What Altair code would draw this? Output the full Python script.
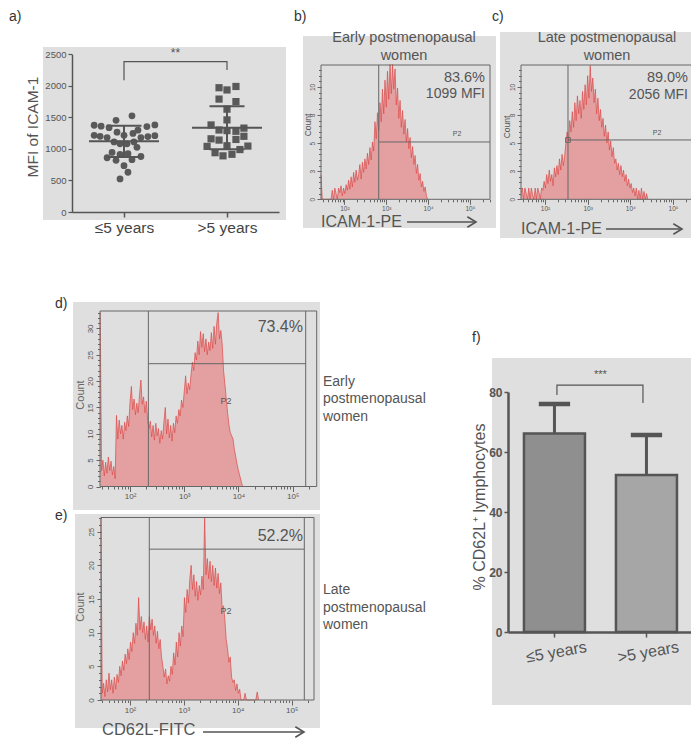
import altair as alt
import pandas as pd

W, H = 683, 731
M = 8  # page margin: reference pixel -> chart pixel


def px(v):
    return v - M


FONT = "Liberation Sans"
NARROW = "Liberation Sans Narrow, Liberation Sans"
TXT = "#555555"
AX = "#555555"
PANEL_BG = "#dfdfdf"
HIST_FILL = "#e4a0a0"
HIST_LINE = "#dc4848"
FRAME = "#666666"
ONE = [{"k": 0}]

# ---------------- panel a data ----------------
a_groups = ["≤5 years", ">5 years"]
a_le5_values = [1525, 1453, 1375, 1360, 1337, 1355, 1380, 1297, 1265, 1215, 1200, 1180, 1215, 1245,
                1180, 1195, 1210, 1110, 1080, 1080, 1110, 1025, 945, 915, 925, 860, 820, 830, 880,
                735, 630, 525]
a_le5_jitter = [8, -8, -30, -23, -15, 23, 31, 14, -7, -30, -24, -17, 0, 9, 17, 24, 31, -10, -4, 3,
                10, 13, -12, -4, 4, -17, -8, 8, 17, 0, 4, -4]
a_gt5_values = [1970, 1935, 1990, 1790, 1750, 1630, 1460, 1380, 1300, 1290, 1280, 1330, 1160, 1140,
                1150, 1200, 1050, 1040, 1045, 940, 890, 915, 990]
a_gt5_jitter = [-8, 0, 9, -8, 9, 0, 0, -16, -8, 0, 9, 17, -16, -8, 9, 17, 0, -20, 21, -12, -4, 5, 13]
a_means = [1120, 1336]
a_sds = [248, 342]
a_bracket = [2090, 2385, 2385, 2250]
a_yticks = [0, 500, 1000, 1500, 2000, 2500]

# ---------------- panel f data ----------------
f_groups = ["≤5 years", ">5 years"]
f_means = [66.2, 52.3]
f_sds = [9.8, 13.4]
f_bracket = [79, 82.3, 82.3, 76.3]
f_yticks = [0, 20, 40, 60, 80]

# ---------------- flow histograms (counts per log-channel) ----------------
b_counts = [2.2, 0, 0, 0, 0, 0, 0, 0, 0,
            0.8, 0, 1, 0.5, 0, 1, 0.6, 1.2, 0.3, 1, 0.5,
            1.3, 0.8, 1.7, 0.9, 2, 1.1, 2.4, 1.5, 2.6, 1.7,
            2.2, 3.1, 1.8, 3.3, 2.4, 3.6, 2.7, 4.1, 3.1, 4.6,
            3.5, 5.1, 4.3, 6.9, 5.4, 7.7, 6.1, 8.6, 6.9, 9.8,
            7.6, 10.6, 8.2, 11.4, 8.9, 12, 9.4, 12, 9.8, 11.6,
            8.4, 9.9, 7.2, 8.8, 6.4, 7.9, 5.8, 7.1, 5.1, 6.3,
            4.5, 5.5, 3.7, 4.7, 3.1, 3.9, 2.3, 3.1, 1.7, 2.3,
            1.1, 1.6, 0.7, 1.1, 0.3, 0]
c_counts = [0.6, 1, 0, 1, 0.5, 0, 1, 0, 1, 0.4,
            0, 1, 0, 1, 0.6, 0, 1, 0.8, 1.6, 1,
            2.2, 1.4, 2.6, 1.6, 2.2, 1.2, 2.8, 2, 3, 2.2,
            3.6, 2.6, 4, 3, 3.8, 5, 6, 5.2, 7, 6,
            7.8, 6.4, 8.6, 7, 9.2, 7.6, 8.8, 7.2, 9.6, 8,
            10.2, 8.4, 11, 9, 11.9, 9.6, 10.8, 8.6, 9.8, 7.6,
            9, 7, 8, 6.4, 7.2, 5.6, 6.6, 5, 6, 4.4,
            5.2, 3.8, 4.6, 3.2, 3.6, 2.6, 3.2, 2.2, 3, 2,
            2.6, 1.6, 2.2, 1.2, 1.8, 1, 1.4, 0.6, 1, 0.3,
            1, 0, 0.8, 0, 1, 0, 0.7, 0, 0.5, 0]
d_counts = [33, 3, 5, 2, 4.6, 2.5, 5.6, 3, 4.8, 2.2,
            3.8, 1.5, 13.5, 9, 12.6, 10, 11.6, 9, 12.2, 10.6,
            13.4, 11.4, 16, 19, 14.6, 16.6, 13.6, 15.8, 14, 17.4,
            20.2, 15.6, 17, 14, 16.2, 12.6, 11, 12.4, 9.4, 11.6,
            8.8, 12, 9.6, 11, 8.2, 10.6, 9, 12.2, 15, 10,
            12.8, 9.2, 11.6, 8.6, 12, 10.2, 13.4, 12, 14.6, 13.4,
            16.4, 15, 18, 21, 17.6, 19.6, 18.4, 21.2, 23.6, 22,
            25.4, 24, 27.6, 25, 29.4, 26.4, 29, 25.6, 28, 25,
            27.4, 25.8, 29.2, 26.2, 30.4, 27, 31, 33, 28, 29.6,
            27, 22, 19.4, 16.6, 14, 11.6, 10.2, 9.6, 9, 7,
            5.6, 4.2, 3, 2, 1, 0]
e_counts = [27.1, 1, 2.5, 0.5, 3, 1.2, 4, 1.5, 3, 1,
            3.4, 1.6, 3.8, 2.6, 5, 3.6, 5.8, 4.4, 6.8, 5.4,
            7.6, 6, 8.6, 7.2, 10, 8.4, 11.4, 9.6, 15.2, 10.4,
            12.4, 10, 11.6, 9, 11, 8.6, 12.4, 10.4, 12, 9.6,
            11, 8.4, 10.2, 7.6, 9, 6.4, 5, 3.4, 4.6, 2.4,
            3.6, 2.8, 5, 3.8, 7, 5.2, 8.6, 6.4, 10, 8,
            11, 9.4, 15.2, 13, 16.4, 14.4, 18, 20, 16.4, 18.6,
            15.4, 17.6, 14.8, 17, 15.6, 18.4, 16.4, 27.1, 18.6, 21,
            18, 20.6, 17.6, 20, 17, 19.6, 16.6, 18.8, 15.8, 17.4,
            13.6, 14, 12, 9, 7.6, 5.6, 6.4, 3.4, 2.6, 3,
            1.4, 2.4, 1, 1.6, 0, 0, 0, 1, 0, 0,
            0, 0, 0, 0, 0, 0, 1.2, 0]

decade_labels = "datum.value == 100 ? '10²' : datum.value == 1000 ? '10³' : datum.value == 10000 ? '10⁴' : datum.value == 100000 ? '10⁵' : ''"


# ---------------- helpers ----------------
def one():
    return alt.Chart(alt.Data(values=ONE))


def bg(x0, x1, y0, y1, color=PANEL_BG):
    return one().mark_rect(color=color).encode(
        x=alt.value(px(x0)), x2=alt.value(px(x1)), y=alt.value(px(y0)), y2=alt.value(px(y1)))


def txt(s, x, y, size=14, angle=0, align="left", baseline="middle", color=TXT, font=FONT, weight="normal"):
    return one().mark_text(text=s, fontSize=size, angle=angle, align=align, baseline=baseline,
                           color=color, font=font, fontWeight=weight).encode(
        x=alt.value(px(x)), y=alt.value(px(y)))


def arrow(x0, x1, y):
    shaft = one().mark_rule(color="#555555", strokeWidth=1.4).encode(
        x=alt.value(px(x0)), x2=alt.value(px(x1 - 1)), y=alt.value(px(y)))
    head = one().mark_point(shape="M-1,-0.6L0,0L-1,0.6", filled=False, size=300, color="#555555",
                            strokeWidth=1.6, opacity=1).encode(x=alt.value(px(x1)), y=alt.value(px(y)))
    return [shaft, head]


layers = []

# ======================= panel a =======================
layers.append(bg(43, 286, 47, 220))
a_x = alt.Scale(domain=[-0.505, 1.505], range=[px(72), px(279)], nice=False, zero=False)
a_y = alt.Scale(domain=[0, 2500], range=[px(212), px(54.3)], nice=False, zero=False)

df_le5 = pd.DataFrame({"grp": 0, "jit": a_le5_jitter, "val": a_le5_values})
df_gt5 = pd.DataFrame({"grp": 1, "jit": a_gt5_jitter, "val": a_gt5_values})

layers.append(alt.Chart(df_le5).transform_calculate(xp="datum.grp + datum.jit/103.5").mark_circle(
    size=46, color="#595959", opacity=1).encode(
    x=alt.X("xp:Q", scale=a_x, axis=alt.Axis(
        orient="bottom", offset=px(212) - H, values=[0, 1],
        labelExpr="datum.value == 0 ? '%s' : '%s'" % (a_groups[0], a_groups[1]),
        labelFontSize=15.5, labelColor="#444444", labelFont=FONT, labelPadding=3,
        tickSize=5, tickWidth=1.5, tickColor=AX, domainColor=AX, domainWidth=1.5,
        title=None, grid=False, zindex=1, labelFlush=False)),
    y=alt.Y("val:Q", scale=a_y, axis=alt.Axis(
        orient="left", offset=-px(72), values=a_yticks, format="d", labelFontSize=9.5,
        labelColor="#555555", labelFont=FONT, labelPadding=2, tickSize=4, tickWidth=1.2,
        tickColor=AX, domainColor=AX, domainWidth=1.5, title=None, grid=False, zindex=1))))
layers.append(alt.Chart(df_gt5).transform_calculate(xp="datum.grp + datum.jit/103.5").mark_square(
    size=52, color="#595959", opacity=1).encode(
    x=alt.X("xp:Q", scale=a_x, axis=None), y=alt.Y("val:Q", scale=a_y, axis=None)))

df_a_stats = pd.DataFrame({"grp": [0, 1], "mean": a_means, "sd": a_sds})
a_base = alt.Chart(df_a_stats).transform_calculate(
    lo="datum.mean - datum.sd", hi="datum.mean + datum.sd",
    m0="datum.grp - 0.34", m1="datum.grp + 0.34", c0="datum.grp - 0.17", c1="datum.grp + 0.17")
layers.append(a_base.mark_rule(color="#555555", strokeWidth=2).encode(
    x=alt.X("m0:Q", scale=a_x, axis=None), x2="m1:Q", y=alt.Y("mean:Q", scale=a_y, axis=None)))
layers.append(a_base.mark_rule(color="#555555", strokeWidth=2).encode(
    x=alt.X("grp:Q", scale=a_x, axis=None), y=alt.Y("lo:Q", scale=a_y, axis=None), y2="hi:Q"))
layers.append(a_base.mark_rule(color="#555555", strokeWidth=2).encode(
    x=alt.X("c0:Q", scale=a_x, axis=None), x2="c1:Q", y=alt.Y("hi:Q", scale=a_y, axis=None)))
layers.append(a_base.mark_rule(color="#555555", strokeWidth=2).encode(
    x=alt.X("c0:Q", scale=a_x, axis=None), x2="c1:Q", y=alt.Y("lo:Q", scale=a_y, axis=None)))

df_a_br = pd.DataFrame({"i": [0, 1, 2, 3], "g": [0, 0, 1, 1], "v": a_bracket})
layers.append(alt.Chart(df_a_br).mark_line(color="#555555", strokeWidth=1.2).encode(
    x=alt.X("g:Q", scale=a_x, axis=None), y=alt.Y("v:Q", scale=a_y, axis=None), order="i:Q"))
layers.append(alt.Chart(pd.DataFrame({"g": [0.5], "v": [2520], "t": ["**"]})).mark_text(
    fontSize=12, color="#555555", font=FONT).encode(
    x=alt.X("g:Q", scale=a_x, axis=None), y=alt.Y("v:Q", scale=a_y, axis=None), text="t:N"))
layers.append(txt("MFI of ICAM-1", 33, 127, size=15.5, angle=270, align="center", color="#555555"))
layers.append(txt("a)", 9, 17, size=14, color="#333333"))


# ======================= flow panels =======================
def flow_panel(cfg):
    out = [bg(*cfg["bg"])]
    xlo, xhi = 10 ** cfg["xlo"], 10 ** cfg["xhi"]
    xs = alt.Scale(type="log", domain=[xlo, xhi], range=[px(cfg["L"]), px(cfg["R"])], nice=False)
    ys = alt.Scale(domain=[0, cfg["ytop"]], range=[px(cfg["B"]), px(cfg["T"])], nice=False, zero=False)
    counts = cfg["counts"]
    hist = pd.DataFrame({"x": [10 ** (cfg["start"] + i * cfg["step"]) for i in range(len(counts))],
                         "c": counts})
    minor_x = [k * 10 ** d for d in range(1, 6) for k in range(2, 10) if xlo <= k * 10 ** d <= xhi]
    out.append(alt.Chart(hist).mark_area(color=HIST_FILL, opacity=1, interpolate="linear").encode(
        x=alt.X("x:Q", scale=xs, axis=alt.Axis(
            orient="bottom", offset=px(cfg["B"]) - H, values=minor_x, labels=False, tickSize=2.5,
            tickColor=FRAME, domain=False, grid=False, title=None, zindex=1)),
        y=alt.Y("c:Q", scale=ys, axis=alt.Axis(
            orient="left", offset=-px(cfg["L"]), values=cfg["yminor"], labels=False, tickSize=2.5,
            tickColor=FRAME, domain=False, grid=False, title=None, zindex=1))))
    out.append(alt.Chart(hist).mark_line(color=HIST_LINE, strokeWidth=0.7, interpolate="linear").encode(
        x=alt.X("x:Q", scale=xs, axis=None), y=alt.Y("c:Q", scale=ys, axis=None)))
    frame = pd.DataFrame({"x0": [xlo], "x1": [xhi], "y0": [0], "y1": [cfg["ytop"]]})
    out.append(alt.Chart(frame).mark_rect(fillOpacity=0, stroke=FRAME, strokeWidth=1).encode(
        x=alt.X("x0:Q", scale=xs, axis=alt.Axis(
            orient="bottom", offset=px(cfg["B"]) - H, values=[100, 1000, 10000, 100000],
            labelExpr=decade_labels, labelFontSize=cfg["tick_fs"], labelColor="#555555", labelFont=FONT,
            labelPadding=1, tickSize=5, tickColor=FRAME, domain=False, grid=False, title=None,
            zindex=1, labelFlush=False, labelOverlap=False)),
        x2="x1:Q",
        y=alt.Y("y0:Q", scale=ys, axis=alt.Axis(
            orient="left", offset=-px(cfg["L"]), values=cfg["ymajor"], labelAngle=270,
            labelAlign="center", labelBaseline="bottom", labelFontSize=cfg["tick_fs"],
            labelColor="#555555", labelFont=FONT, labelPadding=2, tickSize=4, tickColor=FRAME,
            domain=False, grid=False, title=None, zindex=1, labelOverlap=False)),
        y2="y1:Q"))
    gate_right = 10 ** cfg["gate_right"] if cfg.get("gate_right") else xhi
    gates = pd.DataFrame({"g": [10 ** cfg["gate"]], "r": [gate_right], "y0": [0],
                          "y1": [cfg["ytop"]], "gy": [cfg["gate_y"]]})
    out.append(alt.Chart(gates).mark_rule(color=FRAME, strokeWidth=1).encode(
        x=alt.X("g:Q", scale=xs, axis=None), y=alt.Y("y0:Q", scale=ys, axis=None), y2="y1:Q"))
    out.append(alt.Chart(gates).mark_rule(color=FRAME, strokeWidth=1).encode(
        x=alt.X("g:Q", scale=xs, axis=None), x2="r:Q", y=alt.Y("gy:Q", scale=ys, axis=None)))
    if cfg.get("gate_right"):
        out.append(alt.Chart(gates).mark_rule(color=FRAME, strokeWidth=1).encode(
            x=alt.X("r:Q", scale=xs, axis=None), y=alt.Y("y0:Q", scale=ys, axis=None), y2="y1:Q"))
    if cfg.get("marker"):
        out.append(alt.Chart(gates).mark_square(filled=False, size=22, color=FRAME, opacity=1,
                                                strokeWidth=1).encode(
            x=alt.X("g:Q", scale=xs, axis=None), y=alt.Y("gy:Q", scale=ys, axis=None)))
    return out


panel_b = dict(bg=(303, 496, 36, 228), L=321, R=490, T=65, B=199.3, xlo=1.44, xhi=5.48, ytop=11.95,
               start=1.44, step=0.03, counts=b_counts, gate=2.82, gate_y=5.1,
               yminor=[i * 0.5 for i in range(24)], ymajor=[0, 2.5, 5, 7.5, 10], tick_fs=6.5)
panel_c = dict(bg=(500, 699, 32, 238), L=521, R=693, T=65, B=199.3, xlo=1.438, xhi=5.468, ytop=11.95,
               start=1.44, step=0.03, counts=c_counts, gate=2.539, gate_y=5.28, marker=True,
               yminor=[i * 0.5 for i in range(24)], ymajor=[0, 2.5, 5, 7.5, 10], tick_fs=6.5)
panel_d = dict(bg=(73, 320, 302, 510), L=100, R=316.7, T=311, B=486.5, xlo=1.446, xhi=5.443, ytop=33.3,
               start=1.45, step=0.025, counts=d_counts, gate=2.338, gate_y=23.3, gate_right=5.24,
               yminor=list(range(34)), ymajor=[0, 5, 10, 15, 20, 25, 30], tick_fs=8)
panel_e = dict(bg=(75, 320, 514, 728), L=101, R=314, T=517.5, B=700, xlo=1.462, xhi=5.414, ytop=27.1,
               start=1.46, step=0.025, counts=e_counts, gate=2.358, gate_y=22.4, gate_right=5.234,
               yminor=list(range(28)), ymajor=[0, 5, 10, 15, 20, 25], tick_fs=8)

for p in (panel_b, panel_c, panel_d, panel_e):
    layers.extend(flow_panel(p))

# panel b texts
layers.append(txt("b)", 294, 17, size=14, color="#333333"))
layers.append(txt("Early postmenopausal", 404, 38, size=14.5, align="center"))
layers.append(txt("women", 404, 56, size=14.5, align="center"))
layers.append(txt("83.6%", 485, 78, size=14.5, align="right"))
layers.append(txt("1099 MFI", 485, 94, size=14, align="right"))
layers.append(txt("P2", 457, 134, size=7, align="center"))
layers.append(txt("Count", 308, 125, size=8.5, angle=270, align="center"))
layers.append(txt("ICAM-1-PE", 321, 222, size=16))
layers.extend(arrow(407, 476, 222))

# panel c texts
layers.append(txt("c)", 492, 17, size=14, color="#333333"))
layers.append(txt("Late postmenopausal", 607, 38, size=14.5, align="center"))
layers.append(txt("women", 607, 56, size=14.5, align="center"))
layers.append(txt("89.0%", 688, 78, size=14.5, align="right"))
layers.append(txt("2056 MFI", 688, 95, size=14, align="right"))
layers.append(txt("P2", 657, 133, size=7, align="center"))
layers.append(txt("Count", 507, 127, size=8.5, angle=270, align="center"))
layers.append(txt("ICAM-1-PE", 521, 229, size=16))
layers.extend(arrow(606, 682, 229))

# panel d texts
layers.append(txt("d)", 55, 304, size=14, color="#333333"))
layers.append(txt("73.4%", 303, 327, size=16, align="right"))
layers.append(txt("P2", 226, 401, size=9, align="center"))
layers.append(txt("Count", 81, 395, size=11, angle=270, align="center", color="#666666"))
layers.append(txt("Early", 323, 382, size=14))
layers.append(txt("postmenopausal", 323, 399, size=14))
layers.append(txt("women", 323, 417, size=14))

# panel e texts
layers.append(txt("e)", 55, 516, size=14, color="#333333"))
layers.append(txt("52.2%", 303, 536, size=16, align="right"))
layers.append(txt("P2", 226, 611, size=9, align="center"))
layers.append(txt("Count", 81, 607, size=11, angle=270, align="center", color="#666666"))
layers.append(txt("Late", 323, 590, size=14))
layers.append(txt("postmenopausal", 323, 608, size=14))
layers.append(txt("women", 323, 625, size=14))
layers.append(txt("CD62L-FITC", 102, 730, size=16.5))
layers.extend(arrow(203, 304, 732))

# ======================= panel f =======================
layers.append(bg(492, 699, 358, 705))
f_x = alt.Scale(domain=[-0.505, 1.495], range=[px(508), px(692)], nice=False, zero=False)
f_y = alt.Scale(domain=[0, 80], range=[px(632), px(392)], nice=False, zero=False)
df_f = pd.DataFrame({"grp": [0, 1], "name": f_groups, "mean": f_means, "sd": f_sds, "zero": [0, 0]})
f_base = alt.Chart(df_f).transform_calculate(
    hi="datum.mean + datum.sd", b0="datum.grp - 0.3315", b1="datum.grp + 0.3315",
    c0="datum.grp - 0.17", c1="datum.grp + 0.17")
layers.append(f_base.mark_rule(color="#555555", strokeWidth=3).encode(
    x=alt.X("grp:Q", scale=f_x, axis=None), y=alt.Y("mean:Q", scale=f_y, axis=None), y2="hi:Q"))
layers.append(f_base.mark_rule(color="#555555", strokeWidth=4.5).encode(
    x=alt.X("c0:Q", scale=f_x, axis=None), x2="c1:Q", y=alt.Y("hi:Q", scale=f_y, axis=None)))
layers.append(f_base.mark_rect(stroke="#555555", strokeWidth=2.5, opacity=1).encode(
    x=alt.X("b0:Q", scale=f_x, axis=alt.Axis(
        orient="bottom", offset=px(632) - H, values=[0, 1],
        labelExpr="datum.value == 0 ? '%s' : '%s'" % (f_groups[0], f_groups[1]),
        labelAngle=-10, labelAlign="center", labelBaseline="top", labelFontSize=16,
        labelColor="#555555", labelFont=FONT, labelPadding=7, tickSize=5, tickWidth=1.5,
        tickColor=AX, domainColor=AX, domainWidth=2.5, title=None, grid=False, zindex=1,
        labelFlush=False)),
    x2="b1:Q",
    y=alt.Y("mean:Q", scale=f_y, axis=alt.Axis(
        orient="left", offset=-px(508), values=f_yticks, labelFontSize=12, labelFont=NARROW,
        labelFontWeight="bold", labelColor="#555555", labelPadding=2, tickSize=4, tickWidth=1.5,
        tickColor=AX, domainColor=AX, domainWidth=2.5, title=None, grid=False, zindex=1)),
    y2="zero:Q",
    color=alt.Color("name:N", scale=alt.Scale(domain=f_groups, range=["#8f8f8f", "#a6a6a6"]),
                    legend=None)))
df_f_br = pd.DataFrame({"i": [0, 1, 2, 3], "g": [0.027, 0.027, 0.962, 0.962], "v": f_bracket})
layers.append(alt.Chart(df_f_br).mark_line(color="#555555", strokeWidth=1.2).encode(
    x=alt.X("g:Q", scale=f_x, axis=None), y=alt.Y("v:Q", scale=f_y, axis=None), order="i:Q"))
layers.append(alt.Chart(pd.DataFrame({"g": [0.5], "v": [85.8], "t": ["***"]})).mark_text(
    fontSize=11, color="#555555", font=FONT).encode(
    x=alt.X("g:Q", scale=f_x, axis=None), y=alt.Y("v:Q", scale=f_y, axis=None), text="t:N"))
layers.append(txt("% CD62L⁺ lymphocytes", 480, 507, size=16, angle=270, align="center"))
layers.append(txt("f)", 472, 338, size=14, color="#333333"))

chart = alt.layer(*layers).resolve_scale(
    x="independent", y="independent", color="independent"
).resolve_axis(x="independent", y="independent").properties(
    width=W, height=H, autosize=alt.AutoSizeParams(type="none"), padding=0, background="white"
).configure_view(stroke=None).configure_axis(grid=False)

chart.save("out.html", embed_options={"renderer": "svg", "actions": False})
